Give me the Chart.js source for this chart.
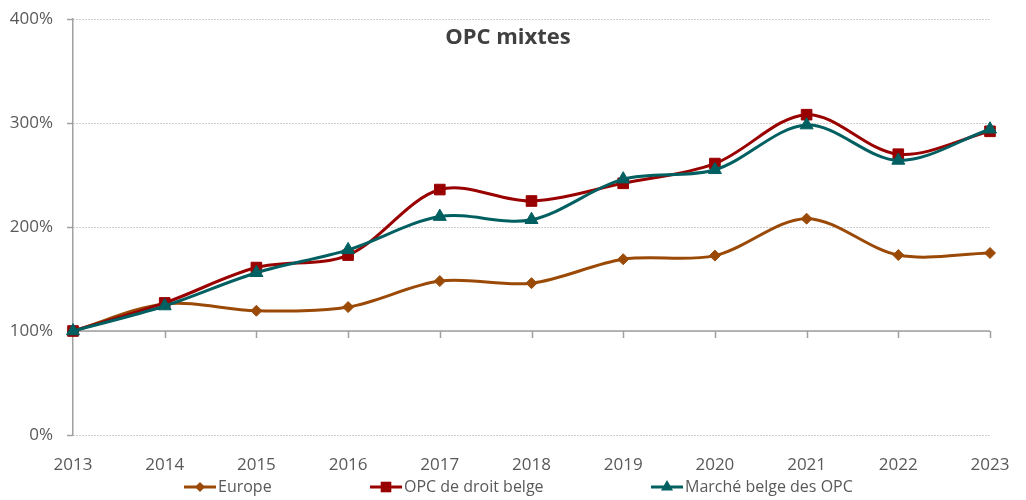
<!DOCTYPE html>
<html lang="fr">
<head>
<meta charset="utf-8">
<title>OPC mixtes</title>
<script src="https://cdn.jsdelivr.net/npm/chart.js@4/dist/chart.umd.min.js"></script>
<style>
  html, body { margin: 0; padding: 0; background: #ffffff; }
  canvas { display: block; }
</style>
</head>
<body>
<canvas id="chart" width="1026" height="500"></canvas>
<script>
// Yearly index values (2013 = 100%)
const years = ['2013', '2014', '2015', '2016', '2017', '2018', '2019', '2020', '2021', '2022', '2023'];
const europe = [100, 126, 119.5, 123, 148, 146, 169, 172.5, 208, 173, 175];
const opcDroitBelge = [100, 127, 161, 173, 236, 225, 242, 261, 308, 270, 292];
const marcheBelge = [100, 124, 156, 178, 210, 207, 246, 255, 298, 264, 294];
const yTicks = [0, 100, 200, 300, 400];
const chartTitle = 'OPC mixtes';
const seriesNames = ['Europe', 'OPC de droit belge', 'Marché belge des OPC'];

const FONT = '"Open Sans", "DejaVu Sans", sans-serif';
const TEXT = '#595959';
const AXIS = '#a0a0a0';
// Left edge of each legend entry
const legendStarts = [184, 370, 651];

// Draws a small marker in the given point style (used by the legend)
function marker(ctx, style, r, x, y, color) {
  ctx.save();
  ctx.fillStyle = color;
  ctx.beginPath();
  if (style === 'rectRot') {
    ctx.moveTo(x - r, y); ctx.lineTo(x, y - r); ctx.lineTo(x + r, y); ctx.lineTo(x, y + r);
  } else if (style === 'rect') {
    const s = r * Math.SQRT1_2;
    ctx.rect(x - s, y - s, 2 * s, 2 * s);
  } else if (style === 'triangle') {
    for (let i = 0; i < 3; i++) {
      const a = i * 2 * Math.PI / 3;
      const px = x + Math.sin(a) * r, py = y - Math.cos(a) * r;
      i ? ctx.lineTo(px, py) : ctx.moveTo(px, py);
    }
  }
  ctx.closePath();
  ctx.fill();
  ctx.restore();
}

// Horizontal category axis crossing the value axis at 100%
const crossAxis = {
  id: 'crossAxis',
  beforeDatasetsDraw(chart) {
    const { ctx, chartArea, scales } = chart;
    const y = scales.y.getPixelForValue(100);
    ctx.save();
    ctx.strokeStyle = AXIS;
    ctx.lineWidth = 1.5;
    ctx.beginPath();
    ctx.moveTo(chartArea.left, y);
    ctx.lineTo(chartArea.right, y);
    years.forEach((_, i) => {
      if (i === 0) return;
      const x = Math.round(scales.x.getPixelForValue(i)) + 0.5;
      ctx.moveTo(x, y);
      ctx.lineTo(x, y + 7);
    });
    ctx.stroke();
    ctx.restore();
  }
};

// Title inside the plot and the legend row underneath the axis labels
const titleAndLegend = {
  id: 'titleAndLegend',
  afterDraw(chart) {
    const { ctx } = chart;
    ctx.save();
    ctx.fillStyle = '#404040';
    ctx.font = 'bold 22px ' + FONT;
    ctx.textAlign = 'center';
    ctx.textBaseline = 'middle';
    ctx.fillText(chartTitle, 508, 38);

    ctx.font = '16px ' + FONT;
    ctx.textAlign = 'left';
    const y = 487;
    chart.data.datasets.forEach((ds, i) => {
      const x = legendStarts[i];
      ctx.strokeStyle = ds.borderColor;
      ctx.lineWidth = 3;
      ctx.beginPath();
      ctx.moveTo(x, y);
      ctx.lineTo(x + 32, y);
      ctx.stroke();
      marker(ctx, ds.pointStyle, ds.legendRadius, x + 16, y, ds.borderColor);
      ctx.fillStyle = TEXT;
      ctx.fillText(ds.label, x + 34, y);
    });
    ctx.restore();
  }
};

const lineStyle = (color, style, radius, order, legendRadius) => ({
  borderColor: color,
  backgroundColor: color,
  pointBackgroundColor: color,
  pointBorderColor: color,
  pointBorderWidth: 1,
  pointStyle: style,
  pointRadius: radius,
  pointHoverRadius: radius,
  borderWidth: 3,
  tension: 0.33,
  fill: false,
  clip: false,
  order: order,
  legendRadius: legendRadius
});

new Chart(document.getElementById('chart'), {
  type: 'line',
  data: {
    labels: years,
    datasets: [
      Object.assign({ label: seriesNames[0], data: europe }, lineStyle('#9a4a06', 'rectRot', 5.5, 3, 5)),
      Object.assign({ label: seriesNames[1], data: opcDroitBelge }, lineStyle('#990000', 'rect', 7.5, 2, 7.5)),
      Object.assign({ label: seriesNames[2], data: marcheBelge }, lineStyle('#005f60', 'triangle', 7.5, 1, 7))
    ]
  },
  options: {
    responsive: false,
    devicePixelRatio: 1,
    animation: false,
    layout: { padding: { left: 0, top: 19, right: 36, bottom: 0 }, autoPadding: false },
    plugins: {
      legend: { display: false },
      title: { display: false },
      tooltip: { enabled: false }
    },
    scales: {
      x: {
        type: 'category',
        offset: false,
        grid: { display: false },
        border: { display: false },
        ticks: {
          color: TEXT,
          font: { family: FONT, size: 17 },
          padding: 12,
          maxRotation: 0,
          autoSkip: false
        },
        afterFit(scale) { scale.height = 65; scale.paddingLeft = 0; scale.paddingRight = 0; }
      },
      y: {
        min: 0,
        max: 400,
        afterBuildTicks(scale) { scale.ticks = yTicks.map(v => ({ value: v })); },
        grid: {
          color: '#9a9a9a',
          lineWidth: 1,
          drawTicks: true,
          tickLength: 6,
          tickColor: AXIS,
          tickWidth: 1.5,
          tickBorderDash: []
        },
        border: { display: true, color: AXIS, width: 1.5, dash: [1, 2] },
        ticks: {
          color: TEXT,
          font: { family: FONT, size: 17 },
          padding: 14,
          callback: v => v + '%'
        },
        afterFit(scale) { scale.width = 73; scale.paddingTop = 0; scale.paddingBottom = 0; }
      }
    }
  },
  plugins: [crossAxis, titleAndLegend]
});
</script>
</body>
</html>
